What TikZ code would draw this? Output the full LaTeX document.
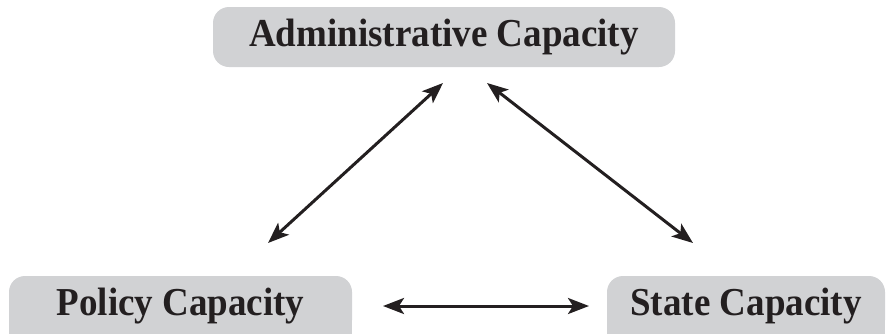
\documentclass[tikz,border=0pt]{standalone}
\usepackage{fontspec}
\setmainfont{Liberation Serif}
\usetikzlibrary{arrows.meta}
\pgfdeclarelayer{background}
\pgfsetlayers{background,main}
\definecolor{boxgray}{RGB}{209,210,212}
\definecolor{ink}{RGB}{35,31,32}
\newcommand{\captext}[1]{\scalebox{1}[1.07]{#1}}
\begin{document}
\begin{tikzpicture}[x=1pt,y=-1pt,
  capbox/.style={fill=boxgray, draw=none, rounded corners=16pt, minimum height=60pt,
    inner sep=0pt, text=ink, font=\fontsize{37}{40}\selectfont\bfseries},
  tip/.tip={Stealth[length=21pt,width=16pt,inset=5pt]},
  link/.style={draw=ink, line width=3pt, tip-tip}]
\clip (0,0) rectangle (888,333);
\node[capbox, minimum width=462pt] (admin) at (444,37) {\captext{Administrative Capacity}};
\node[capbox, minimum width=343pt] (policy) at (180.5,306) {\captext{Policy Capacity}};
\node[capbox, minimum width=278pt] (state) at (746,306) {\captext{State Capacity}};
\begin{pgfonlayer}{background}
  \fill[boxgray] (policy.west) rectangle ([yshift=-20pt]policy.south east);
  \fill[boxgray] (state.west) rectangle ([yshift=-20pt]state.south east);
\end{pgfonlayer}
\coordinate (a1) at (443,83);
\coordinate (p1) at (268,243);
\coordinate (a2) at (487,83);
\coordinate (s2) at (693,243);
\coordinate (p3) at (383,306);
\coordinate (s3) at (589,306);
\draw[link] (p1) -- (a1);
\draw[link] (a2) -- (s2);
\draw[link] (p3) -- (s3);
\end{tikzpicture}
\end{document}
